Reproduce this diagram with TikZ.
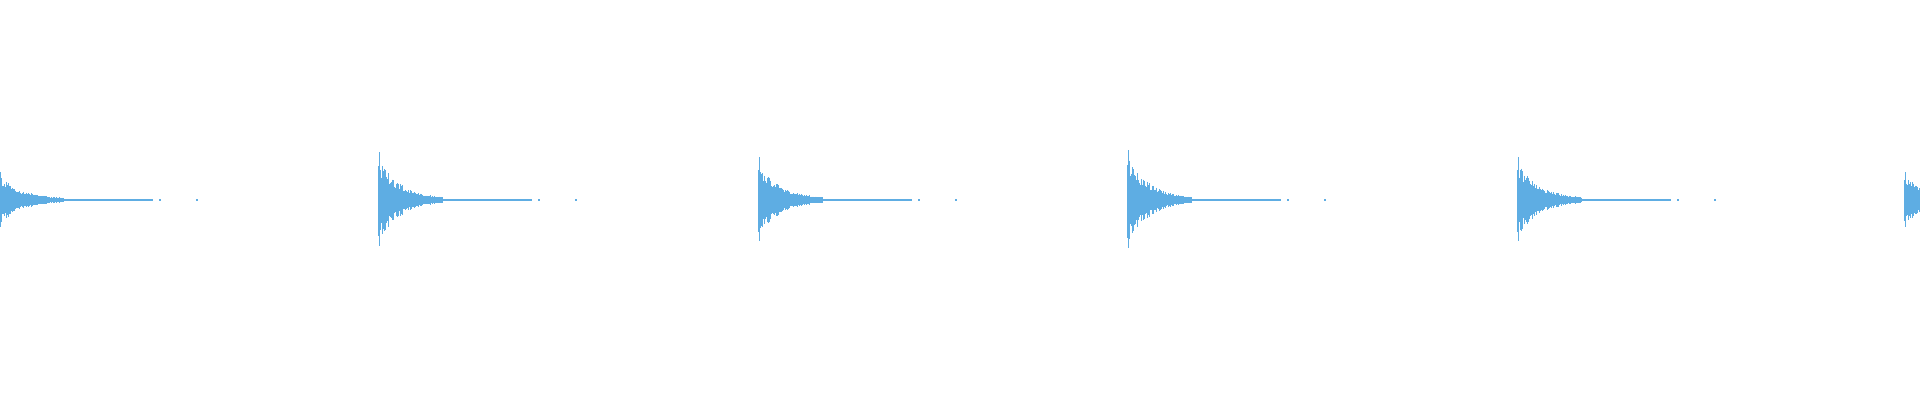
\documentclass[tikz,border=0pt]{standalone}
\usepackage{tikz}
\definecolor{wave}{RGB}{94,173,227}
\tikzset{strike/.style={draw=wave,line width=1pt}, tail/.style={draw=wave,line width=1.2pt}}
% one drum hit: #1 = x of onset, #2 = peak amplitude
\newcommand{\hit}[2]{%
  \draw[strike] (#1+2,200-#2) -- (#1+2,200+#2*0.95);
  \draw[strike] (#1+1,200-#2*0.7) -- (#1+1,200+#2*0.75);
  \foreach \i in {3,...,65}{
    \pgfmathsetmacro{\amp}{#2*0.75*exp(-\i/22)*(0.7+0.5*rnd)+1}
    \draw[strike] (#1+\i,200-\amp) -- (#1+\i,200+\amp);
  }
  \draw[tail] (#1+60,200) -- (#1+155,200);
  \fill[wave] (#1+161,199.4) rectangle (#1+163,200.6);
  \fill[wave] (#1+198,199.4) rectangle (#1+200,200.6);
}
\begin{document}
\begin{tikzpicture}[x=1pt,y=-1pt]
\pgfmathsetseed{7}
\useasboundingbox (0,0) rectangle (1920,400);
%Waveform: hits
\hit{-2}{28}
\hit{377}{48}
\hit{757}{43}
\hit{1126}{50}
\hit{1516}{43}
\hit{1903}{28}
\end{tikzpicture}
\end{document}
